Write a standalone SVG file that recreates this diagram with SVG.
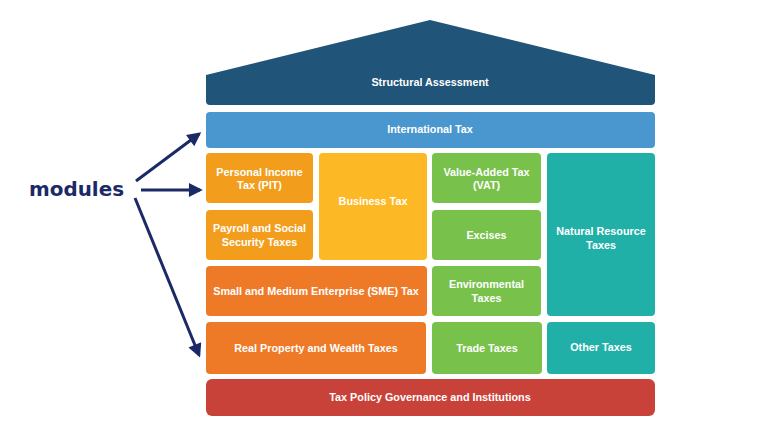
<svg xmlns="http://www.w3.org/2000/svg" width="780" height="439" viewBox="0 0 780 439">
<defs>
<style>
.lbl{font-family:"Liberation Sans",Arial,sans-serif;font-weight:bold;font-size:10.8px;fill:#ffffff;text-anchor:middle}
.arrow{stroke:#1b2a66;stroke-width:3;fill:none;marker-end:url(#ah)}
</style>
<marker id="ah" viewBox="0 0 10 10" refX="8" refY="5" markerWidth="5.2" markerHeight="4.6" orient="auto" markerUnits="strokeWidth">
<path d="M0,0 L10,5 L0,10 z" fill="#1b2a66"/>
</marker>
</defs>
<rect width="780" height="439" fill="#ffffff"/>
<g id="roof">
<path d="M206,75 L430,20 L655,75 L655,101 Q655,105 651,105 L210,105 Q206,105 206,101 Z" fill="#215479"/>
<text class="lbl" x="430" y="86">Structural Assessment</text>
</g>
<g id="international">
<rect x="206" y="112" width="449" height="36" rx="4" fill="#4a97d0"/>
<text class="lbl" x="430" y="133">International Tax</text>
</g>
<g id="pit">
<rect x="206" y="153" width="107" height="50" rx="4" fill="#f29d1c"/>
<text class="lbl" x="259.5" y="175.5">Personal Income</text>
<text class="lbl" x="259.5" y="189">Tax (PIT)</text>
</g>
<g id="payroll">
<rect x="206" y="210" width="107" height="50" rx="4" fill="#f29d1c"/>
<text class="lbl" x="259.5" y="231.5">Payroll and Social</text>
<text class="lbl" x="259.5" y="245.5">Security Taxes</text>
</g>
<g id="business">
<rect x="319" y="153" width="108" height="107" rx="4" fill="#fdb825"/>
<text class="lbl" x="373" y="204.5">Business Tax</text>
</g>
<g id="sme">
<rect x="206" y="266" width="221" height="50" rx="4" fill="#ee7a28"/>
<text class="lbl" x="316" y="295">Small and Medium Enterprise (SME) Tax</text>
</g>
<g id="realproperty">
<rect x="206" y="322" width="220" height="52" rx="4" fill="#ee7a28"/>
<text class="lbl" x="316" y="352">Real Property and Wealth Taxes</text>
</g>
<g id="vat">
<rect x="432" y="153" width="109" height="50" rx="4" fill="#78c24b"/>
<text class="lbl" x="486.5" y="175.5">Value-Added Tax</text>
<text class="lbl" x="486.5" y="189">(VAT)</text>
</g>
<g id="excises">
<rect x="432" y="210" width="109" height="50" rx="4" fill="#78c24b"/>
<text class="lbl" x="486.5" y="239">Excises</text>
</g>
<g id="environmental">
<rect x="432" y="266" width="109" height="50" rx="4" fill="#78c24b"/>
<text class="lbl" x="486.5" y="287.5">Environmental</text>
<text class="lbl" x="486.5" y="301.5">Taxes</text>
</g>
<g id="trade">
<rect x="432" y="322" width="110" height="52" rx="4" fill="#78c24b"/>
<text class="lbl" x="487" y="352">Trade Taxes</text>
</g>
<g id="naturalresource">
<rect x="547" y="153" width="108" height="163" rx="4" fill="#21b0a8"/>
<text class="lbl" x="601" y="234.5">Natural Resource</text>
<text class="lbl" x="601" y="248.5">Taxes</text>
</g>
<g id="other">
<rect x="547" y="322" width="108" height="52" rx="4" fill="#21b0a8"/>
<text class="lbl" x="601" y="351">Other Taxes</text>
</g>
<g id="governance">
<rect x="206" y="379" width="449" height="37" rx="6" fill="#c9423a"/>
<text class="lbl" x="430" y="401">Tax Policy Governance and Institutions</text>
</g>
<g id="modules">
<text x="29" y="196" font-family="'DejaVu Sans',Verdana,sans-serif" font-weight="bold" font-size="19.5" fill="#1b2a66" textLength="95" lengthAdjust="spacingAndGlyphs">modules</text>
</g>
<g id="connectors">
<line class="arrow" x1="136" y1="181" x2="199" y2="134"/>
<line class="arrow" x1="141" y1="190" x2="200" y2="190"/>
<line class="arrow" x1="135" y1="198" x2="199" y2="355"/>
</g>
</svg>
